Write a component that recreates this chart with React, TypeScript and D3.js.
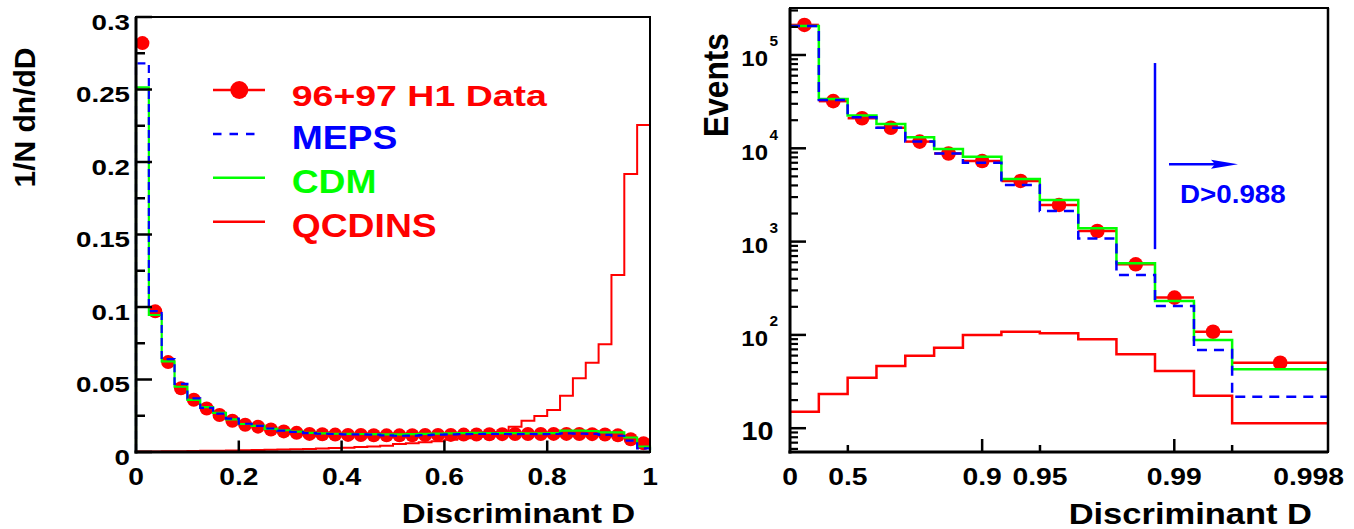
import React from "react";
import * as d3 from "d3";

// ---------------- DATA ----------------
// Left panel: 40 bins of width 0.025 in D
const leftBinEdges = d3.range(41).map((i) => i / 40);
const leftData = [0.282, 0.097, 0.062, 0.044, 0.036, 0.030, 0.0255, 0.0216, 0.0188, 0.0175, 0.0155, 0.0142, 0.0132, 0.0125, 0.0122, 0.012, 0.0118, 0.0117, 0.0116, 0.0115, 0.0115, 0.0116, 0.0117, 0.0118, 0.0118, 0.012, 0.0121, 0.0122, 0.0123, 0.0124, 0.0124, 0.0124, 0.0125, 0.0125, 0.0124, 0.0123, 0.0121, 0.0115, 0.0088, 0.006];
const leftMEPS = [0.268, 0.0972, 0.064, 0.047, 0.037, 0.0305, 0.0265, 0.023, 0.0195, 0.018, 0.0162, 0.0148, 0.0138, 0.013, 0.0126, 0.0124, 0.0122, 0.0121, 0.012, 0.0115, 0.0112, 0.0113, 0.0116, 0.012, 0.0121, 0.0123, 0.0124, 0.0125, 0.0124, 0.0123, 0.0124, 0.0123, 0.0124, 0.0128, 0.0127, 0.0125, 0.0118, 0.0112, 0.0078, 0.0025];
const leftCDM = [0.2515, 0.0945, 0.0625, 0.045, 0.036, 0.031, 0.027, 0.0225, 0.0193, 0.018, 0.016, 0.015, 0.014, 0.0132, 0.0128, 0.0126, 0.0125, 0.0124, 0.0123, 0.0122, 0.0122, 0.0123, 0.0125, 0.0127, 0.0128, 0.013, 0.0132, 0.0131, 0.013, 0.013, 0.0129, 0.0129, 0.013, 0.0147, 0.0147, 0.0145, 0.0136, 0.0135, 0.010, 0.0038];
const leftQCDINS = [0.0003, 0.0004, 0.0005, 0.0006, 0.0007, 0.0008, 0.0009, 0.001, 0.0012, 0.0013, 0.0015, 0.0017, 0.0019, 0.0021, 0.0024, 0.0027, 0.003, 0.0034, 0.0038, 0.0043, 0.0055, 0.006, 0.0068, 0.0075, 0.0085, 0.0095, 0.0105, 0.0118, 0.0135, 0.0175, 0.0216, 0.0248, 0.029, 0.0388, 0.0508, 0.0616, 0.0743, 0.122, 0.1917, 0.2255];

const leftYTickLabels = ["0", "0.05", "0.1", "0.15", "0.2", "0.25", "0.3"];
const leftXTickLabels = ["0", "0.2", "0.4", "0.6", "0.8", "1"];

// Right panel: 14 bins, edges in D (axis is -log10(1-D))
const rightBinEdges = [0, 0.2921, 0.4988, 0.6452, 0.7488, 0.8222, 0.8741, 0.9206, 0.9499, 0.9684, 0.98, 0.9874, 0.9921, 0.995, 0.99842];
const rightData = [2.1e5, 3.2e4, 2.1e4, 1.66e4, 1.18e4, 8.8e3, 7.3e3, 4.47e3, 2.47e3, 1.3e3, 571, 251, 108, 50.3];
const rightMEPS = [2.05e5, 3.3e4, 2.15e4, 1.66e4, 1.18e4, 8.8e3, 7.0e3, 4.04e3, 2.13e3, 1.08e3, 439, 204, 69, 21.8];
const rightCDM = [2.05e5, 3.37e4, 2.24e4, 1.82e4, 1.31e4, 9.8e3, 8.1e3, 4.69e3, 2.79e3, 1.39e3, 585, 231, 88, 42.8];
const rightQCDINS = [15.0, 23.3, 34.8, 46.4, 59.9, 72.9, 99.8, 108, 104, 90, 62, 41, 22.3, 11.3];

const rightXTickValues = [0, 0.5, 0.9, 0.95, 0.99, 0.998];
const rightXTickLabels = ["0", "0.5", "0.9", "0.95", "0.99", "0.998"];
const rightXLongTicks = [0.9, 0.99];
const rightXShortTicks = [0.5, 0.95, 0.995];
const rightYExponents = [2, 3, 4, 5];

const legendLabels = ["96+97 H1 Data", "MEPS", "CDM", "QCDINS"];
const cutValue = 0.9874;
const cutLabel = "D>0.988";

const RED = "#ff0000";
const BLUE = "#0000ff";
const GREEN = "#00ff00";
const FONT = "'Liberation Sans', Arial, Helvetica, sans-serif";

function stepPath(edges: number[], vals: number[], x: (v: number) => number, y: (v: number) => number, base?: number) {
  let d = base !== undefined ? `M${x(edges[0])},${y(base)}V${y(vals[0])}` : `M${x(edges[0])},${y(vals[0])}`;
  vals.forEach((v, i) => {
    if (i > 0) d += `V${y(v)}`;
    d += `H${x(edges[i + 1])}`;
  });
  if (base !== undefined) d += `V${y(base)}`;
  return d;
}

function T({ x, y, size, anchor = "start", fill = "#000", sx = 1, sy = 1, rot = 0, children }: any) {
  const tr = `translate(${x},${y})` + (rot ? ` rotate(${rot})` : "") + ` scale(${sx},${sy})`;
  return (
    <text transform={tr} fontSize={size} textAnchor={anchor} fill={fill} fontFamily={FONT} fontWeight="bold">
      {children}
    </text>
  );
}

export default function App() {
  // Left scales
  const L = { x0: 136, x1: 650, y0: 17, y1: 452 };
  const xL = d3.scaleLinear().domain([0, 1]).range([L.x0, L.x1]);
  const yL = d3.scaleLinear().domain([0, 0.3]).range([L.y1, L.y0]);

  // Right scales
  const R = { x0: 790, x1: 1328, y0: 8, y1: 452 };
  const xT = d3.scaleLinear().domain([0, 2.8]).range([R.x0, R.x1]);
  const xR = (D: number) => xT(-Math.log10(1 - D));
  const yR = d3.scaleLog().domain([Math.pow(10, 0.745), Math.pow(10, 5.5037)]).range([R.y1, R.y0]);

  const leftYTicks = d3.range(13).map((i) => i * 0.025);
  const leftXTicks = [0.2, 0.4, 0.6, 0.8];

  const rMinor: number[] = [];
  for (let k = 0; k <= 5; k++) {
    for (let m = 2; m <= 9; m++) {
      const v = m * Math.pow(10, k);
      if (v > yR.domain()[0] && v < yR.domain()[1]) rMinor.push(v);
    }
  }
  const rMajor = [10, 100, 1000, 10000, 100000];

  const legendY = (i: number) => 90 + i * 43.9;
  const legendSizes = [30, 33, 33, 33];
  const legendSx = [1.25, 1.13, 1.13, 1.13];
  const legendColors = [RED, BLUE, GREEN, RED];

  const cutX = xR(cutValue);

  return (
    <svg width={1354} height={529} style={{ position: "absolute", left: 0, top: 0, display: "block", background: "#fff" }}>
      <rect x={0} y={0} width={1354} height={529} fill="#fff" />

      {/* ================= LEFT PANEL ================= */}
      {leftData.map((v, i) => (
        <g key={"ld" + i}>
          <line x1={xL(leftBinEdges[i])} x2={xL(leftBinEdges[i + 1])} y1={yL(v)} y2={yL(v)} stroke={RED} strokeWidth={2} />
          <circle cx={xL((leftBinEdges[i] + leftBinEdges[i + 1]) / 2)} cy={yL(v)} r={7} fill={RED} />
        </g>
      ))}
      <path d={stepPath(leftBinEdges, leftQCDINS, xL, yL, 0)} fill="none" stroke={RED} strokeWidth={2} />
      <path d={stepPath(leftBinEdges, leftCDM, xL, yL, 0)} fill="none" stroke={GREEN} strokeWidth={2.2} />
      <path d={stepPath(leftBinEdges, leftMEPS, xL, yL, 0)} fill="none" stroke={BLUE} strokeWidth={2.2} strokeDasharray="8,5" />

      {/* frame */}
      <rect x={L.x0} y={L.y0} width={L.x1 - L.x0} height={L.y1 - L.y0} fill="none" stroke="#000" strokeWidth={2} />
      <line x1={L.x0} x2={L.x0} y1={L.y0} y2={L.y1 + 1.5} stroke="#000" strokeWidth={3} />
      <line x1={L.x0 - 1.5} x2={L.x1} y1={L.y1} y2={L.y1} stroke="#000" strokeWidth={3} />
      {leftYTicks.map((v, i) => (
        <line key={"lyt" + i} x1={L.x0} x2={L.x0 + (i % 2 === 0 ? 16 : 9)} y1={yL(v)} y2={yL(v)} stroke="#000" strokeWidth={2.5} />
      ))}
      {leftXTicks.map((v, i) => (
        <line key={"lxt" + i} x1={xL(v)} x2={xL(v)} y1={L.y1} y2={L.y1 - 11.5} stroke="#000" strokeWidth={2.5} />
      ))}
      {leftYTickLabels.map((s, i) => (
        <T key={"lyl" + i} x={L.x0 - 6} y={yL(i * 0.05) + 12.5} size={22} anchor="end" sx={1.26}>
          {s}
        </T>
      ))}
      {leftXTickLabels.map((s, i) => (
        <T key={"lxl" + i} x={xL(i * 0.2)} y={485} size={23.5} anchor="middle" sx={1.2}>
          {s}
        </T>
      ))}
      <T x={L.x1 - 15} y={523} size={28.5} anchor="end" sx={1.16}>Discriminant D</T>
      <T x={35} y={117.5} size={30} anchor="middle" rot={-90}>1/N dn/dD</T>

      {/* legend */}
      {legendLabels.map((s, i) => {
        const ly = legendY(i);
        return (
          <g key={"leg" + i}>
            {i === 0 && (
              <>
                <line x1={213} x2={265} y1={ly} y2={ly} stroke={RED} strokeWidth={2.5} />
                <circle cx={239.3} cy={ly} r={9} fill={RED} />
              </>
            )}
            {i === 1 && <line x1={213} x2={258} y1={ly} y2={ly} stroke={BLUE} strokeWidth={2.5} strokeDasharray="8.5,8" />}
            {i === 2 && <line x1={213} x2={265} y1={ly} y2={ly} stroke={GREEN} strokeWidth={2.5} />}
            {i === 3 && <line x1={213} x2={265} y1={ly} y2={ly} stroke={RED} strokeWidth={2.5} />}
            <T x={291.7} y={ly + (i === 0 ? 16 : 15.5)} size={legendSizes[i]} sx={legendSx[i]} fill={legendColors[i]}>
              {s}
            </T>
          </g>
        );
      })}

      {/* ================= RIGHT PANEL ================= */}
      {rightData.map((v, i) => (
        <g key={"rd" + i}>
          <line x1={xR(rightBinEdges[i])} x2={xR(rightBinEdges[i + 1])} y1={yR(v)} y2={yR(v)} stroke={RED} strokeWidth={2.5} />
          <circle cx={(xR(rightBinEdges[i]) + xR(rightBinEdges[i + 1])) / 2} cy={yR(v)} r={7.3} fill={RED} />
        </g>
      ))}
      <path d={stepPath(rightBinEdges, rightQCDINS, xR, (v) => yR(v))} fill="none" stroke={RED} strokeWidth={2.5} />
      <path d={stepPath(rightBinEdges, rightCDM, xR, (v) => yR(v))} fill="none" stroke={GREEN} strokeWidth={2.5} />
      <path d={stepPath(rightBinEdges, rightMEPS, xR, (v) => yR(v))} fill="none" stroke={BLUE} strokeWidth={2.5} strokeDasharray="10,7" />

      {/* cut annotation */}
      <line x1={cutX} x2={cutX} y1={yR(8.2e4)} y2={yR(830)} stroke={BLUE} strokeWidth={2.5} />
      <line x1={cutX + 14} x2={cutX + 62} y1={yR(6740)} y2={yR(6740)} stroke={BLUE} strokeWidth={2.5} />
      <polygon
        points={`${cutX + 83},${yR(6740)} ${cutX + 56},${yR(6740) - 4.5} ${cutX + 60},${yR(6740)} ${cutX + 56},${yR(6740) + 4.5}`}
        fill={BLUE}
      />
      <T x={cutX + 25} y={yR(2600)} size={25} sx={1.11} fill={BLUE}>{cutLabel}</T>

      {/* frame */}
      <rect x={R.x0} y={R.y0} width={R.x1 - R.x0} height={R.y1 - R.y0} fill="none" stroke="#000" strokeWidth={2} />
      <line x1={R.x1} x2={R.x1} y1={R.y0} y2={R.y1} stroke="#000" strokeWidth={2.5} />
      <line x1={R.x0} x2={R.x0} y1={R.y0} y2={R.y1 + 1.5} stroke="#000" strokeWidth={3} />
      <line x1={R.x0 - 1.5} x2={R.x1} y1={R.y1} y2={R.y1} stroke="#000" strokeWidth={3} />
      {rMinor.map((v, i) => (
        <line key={"rmn" + i} x1={R.x0} x2={R.x0 + 8} y1={yR(v)} y2={yR(v)} stroke="#000" strokeWidth={2.2} />
      ))}
      {rMajor.map((v, i) => (
        <line key={"rmj" + i} x1={R.x0} x2={R.x0 + 16} y1={yR(v)} y2={yR(v)} stroke="#000" strokeWidth={2.5} />
      ))}
      {rightXLongTicks.map((v, i) => (
        <line key={"rxl" + i} x1={xR(v)} x2={xR(v)} y1={R.y1} y2={R.y1 - 13} stroke="#000" strokeWidth={2.5} />
      ))}
      {rightXShortTicks.map((v, i) => (
        <line key={"rxs" + i} x1={xR(v)} x2={xR(v)} y1={R.y1} y2={R.y1 - 7} stroke="#000" strokeWidth={2.5} />
      ))}
      {rightXTickValues.map((v, i) => (
        <T key={"rxlab" + i} x={xR(v)} y={485} size={23} anchor="middle" sx={1.23}>
          {rightXTickLabels[i]}
        </T>
      ))}
      {/* y labels */}
      <T x={773.5} y={yR(10) + 12} size={25} anchor="end" sx={1.15}>10</T>
      {rightYExponents.map((k) => (
        <g key={"rye" + k}>
          <T x={768} y={yR(Math.pow(10, k)) + 11.5} size={22} anchor="end" sx={1.09}>10</T>
          <T x={769.5} y={yR(Math.pow(10, k)) - 8.5} size={14} sx={1.1}>{String(k)}</T>
        </g>
      ))}
      <T x={R.x1 - 16} y={523.5} size={30} anchor="end" sx={1.15}>Discriminant D</T>
      <T x={728} y={85} size={31.7} anchor="middle" rot={-90} sy={1.13}>Events</T>
    </svg>
  );
}
